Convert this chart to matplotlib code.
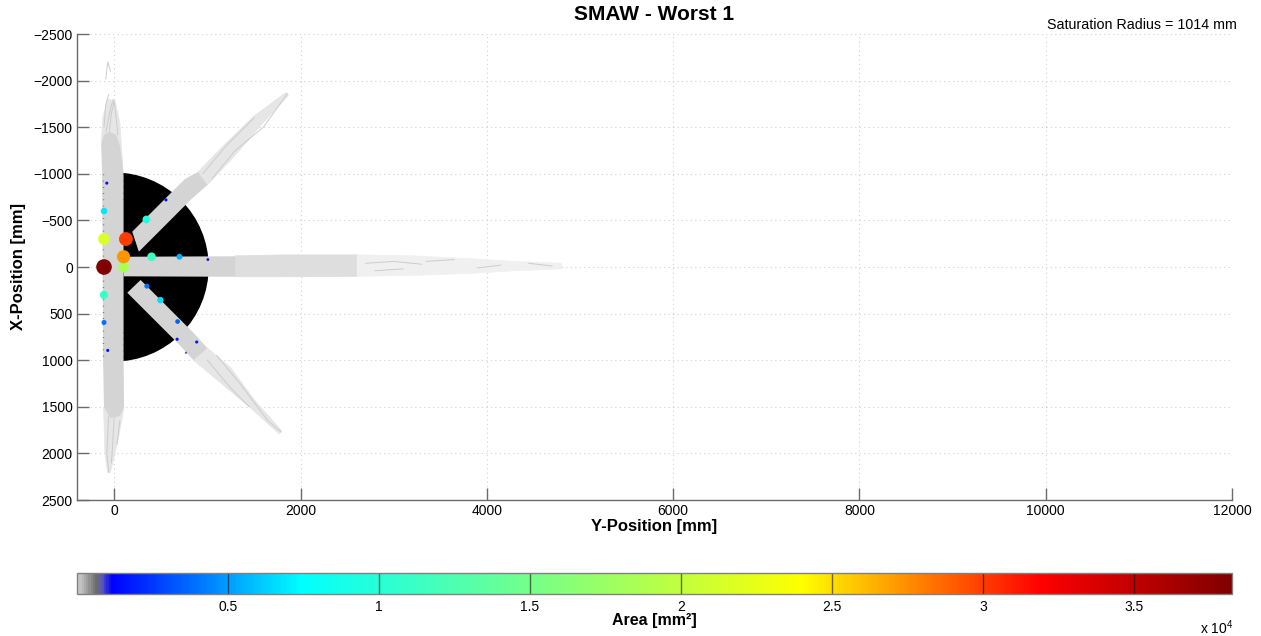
import numpy as np
import matplotlib
matplotlib.use('Agg')
import matplotlib.pyplot as plt
from matplotlib.colors import LinearSegmentedColormap, Normalize
from matplotlib.patches import Wedge, Polygon
from matplotlib.cm import ScalarMappable

plt.rcParams['font.family'] = ['Liberation Sans', 'DejaVu Sans']
plt.rcParams['mathtext.fontset'] = 'custom'
plt.rcParams['mathtext.rm'] = 'Liberation Sans'
plt.rcParams['mathtext.it'] = 'Liberation Sans'

# ---------------- data ----------------
title = "SMAW - Worst 1"
sat_radius = 1014
area_max = 38240

# pool centres: horizontal (Y-Position) and vertical (X-Position), area in mm^2
pool_ypos = [-80, -110, 555, 345, -110, 125, 100, 400, 700, 1005, -110, 100,
             -110, 350, 495, -110, 680, 675, 885, 770, -70]
pool_xpos = [-900, -600, -720, -510, -300, -300, -110, -110, -110, -80, 0, 0,
             300, 205, 355, 595, 585, 775, 805, 920, 895]
pool_area = [1500, 6800, 1500, 9500, 21500, 30000, 27200, 11500, 5500, 1200, 38200, 18500,
             11000, 4000, 6500, 4000, 3500, 1500, 1500, 800, 1500]

# dense trajectory regions (Y, X)
vert_core = [(-130, -1000), (-140, -1300), (-110, -1420), (-50, -1450), (20, -1420),
             (60, -1300), (90, -1100), (100, -1000), (100, 1000), (105, 1500),
             (60, 1600), (-40, 1620), (-110, 1500), (-120, 1000)]
vert_tail_top = [(-140, -1300), (-125, -1600), (-70, -1800), (10, -1780),
                 (60, -1550), (90, -1100), (20, -1420), (-110, -1420)]
vert_tail_bot = [(-115, 1500), (-100, 2000), (-70, 2210), (-40, 2200), (20, 1950),
                 (80, 1650), (105, 1500)]
horiz_core = [(100, -110), (1300, -115), (1300, 105), (100, 100)]
horiz_mid = [(1300, -120), (1800, -130), (2600, -130), (2600, 100), (1800, 105), (1300, 105)]
horiz_tail = [(2600, -130), (3200, -120), (3800, -90), (4300, -60),
              (4800, -40), (4800, 20), (4300, 40), (3800, 70), (3200, 90), (2600, 100)]
diag_up_core = [(193, -379), (264, -164), (830, -730), (1000, -880), (900, -1020), (759, -945)]
diag_up_tail = [(1000, -880), (1300, -1200), (1600, -1550), (1870, -1840),
                (1840, -1870), (1500, -1620), (1150, -1280), (900, -1020)]
diag_dn_core = [(283, 139), (140, 276), (706, 842), (850, 1000), (1000, 870), (849, 705)]
diag_dn_tail = [(1000, 870), (1250, 1080), (1500, 1420), (1800, 1760), (1770, 1790),
                (1450, 1500), (1150, 1250), (850, 1000)]

# loose trace wisps
wisps = [
    [(-60, -1400), (-30, -1650), (0, -1780), (20, -1600), (40, -1420)],
    [(-90, -1450), (-40, -1700), (-10, -1800)],
    [(-110, -1500), (-90, -1750), (-60, -1850)],
    [(-90, -2020), (-70, -2200), (-40, -2100)],
    [(-60, 1600), (-80, 2000), (-60, 2200)],
    [(0, 1600), (-20, 1950), (-30, 2100)],
    [(60, 1650), (30, 1900)],
    [(2700, -40), (3000, -60), (3300, -30)],
    [(2800, 40), (3100, 20)],
    [(3350, -60), (3650, -80)],
    [(3900, 10), (4150, -20)],
    [(4450, -40), (4700, -10)],
    [(1100, 950), (1350, 1250), (1650, 1650), (1790, 1770)],
    [(1000, 1000), (1250, 1300), (1450, 1500)],
    [(1050, -950), (1300, -1250), (1600, -1500), (1860, -1860)],
    [(950, -1000), (1200, -1300), (1500, -1600)],
]

xticks = [0, 2000, 4000, 6000, 8000, 10000, 12000]
yticks = [-2500, -2000, -1500, -1000, -500, 0, 500, 1000, 1500, 2000, 2500]
cb_ticks = [5000, 10000, 15000, 20000, 25000, 30000, 35000]
cb_ticklabels = ['0.5', '1', '1.5', '2', '2.5', '3', '3.5']

# ---------------- colormap ----------------
anch = [0.0, 0.015, 0.03, 0.045, 0.06, 0.08, 0.11, 0.74, 1.57, 2.40, 3.19, 3.824]
cols = [(0.80, 0.80, 0.80), (0.72, 0.72, 0.72), (0.62, 0.62, 0.62), (0.52, 0.52, 0.52),
        (0.42, 0.42, 0.45), (0.35, 0.35, 0.70), (0, 0, 1), (0, 1, 1), (0.5, 1, 0.5),
        (1, 1, 0), (1, 0, 0), (0.5, 0, 0)]
cmap = LinearSegmentedColormap.from_list('grayjet', list(zip(np.array(anch) / anch[-1], cols)), N=512)
norm = Normalize(vmin=0, vmax=area_max)

# ---------------- figure ----------------
W, H = 1261, 636
fig = plt.figure(figsize=(W / 100, H / 100), dpi=100)
ax = fig.add_axes([77 / W, 1 - 500 / H, 1155 / W, 466 / H])

ax.set_xlim(-400, 12000)
ax.set_ylim(2500, -2500)
ax.set_xticks(xticks)
ax.set_yticks(yticks)
ax.set_axisbelow(True)
ax.grid(True, linestyle=(0, (1, 3)), color=(0.82, 0.82, 0.82), linewidth=0.8)
for s in ['top', 'right']:
    ax.spines[s].set_visible(False)
for s in ['left', 'bottom']:
    ax.spines[s].set_color((0.42, 0.42, 0.42))
    ax.spines[s].set_linewidth(1.0)
ax.tick_params(direction='in', length=8.6, width=1.0, color=(0.42, 0.42, 0.42),
               labelsize=10, labelcolor='black', pad=3)

# black saturation semicircle
ax.add_patch(Wedge((0, 0), sat_radius, -90, 90, facecolor='black', edgecolor='none', zorder=1))

core_col = (0.83, 0.83, 0.83)
mid_col = (0.87, 0.87, 0.87)
tail_col = (0.90, 0.90, 0.90)
faint_col = (0.94, 0.94, 0.94)
for poly, c in [(vert_tail_top, tail_col), (vert_tail_bot, tail_col), (horiz_tail, faint_col),
                (diag_up_tail, tail_col), (diag_dn_tail, tail_col), (horiz_mid, mid_col)]:
    ax.add_patch(Polygon(poly, closed=True, facecolor=c, edgecolor=c,
                         linewidth=0.5, zorder=2))
for poly in [vert_core, horiz_core, diag_up_core, diag_dn_core]:
    ax.add_patch(Polygon(poly, closed=True, facecolor=core_col, edgecolor='none', zorder=2.2))
for w in wisps:
    wy, wx = zip(*w)
    ax.plot(wy, wx, color=(0.80, 0.80, 0.80), linewidth=0.7, zorder=2.1)

# black speckles along vertical bar edges
ax.plot([-118, -118], [-1000, 1000], color='black', linewidth=1.0,
        linestyle=(0, (0.5, 4)), alpha=0.6, zorder=2.3)
ax.plot([92, 92], [-1000, -700], color='black', linewidth=0.8,
        linestyle=(0, (0.5, 5)), alpha=0.5, zorder=2.3)
ax.plot([92, 92], [700, 1000], color='black', linewidth=0.8,
        linestyle=(0, (0.5, 5)), alpha=0.5, zorder=2.3)

# weld pools
order = np.argsort(pool_area)
py = np.array(pool_ypos)[order]
px = np.array(pool_xpos)[order]
pa = np.array(pool_area)[order]
ax.scatter(py, px, s=pa / 1e4 * 33, c=pa, cmap=cmap, norm=norm, edgecolors='none', zorder=4)

# texts
fig.text(654.5 / W, 1 - 15 / H, title, ha='center', va='center', fontsize=15, fontweight='bold')
fig.text(1237 / W, 1 - 25 / H, f"Saturation Radius = {sat_radius} mm", ha='right', va='center', fontsize=10.3)
fig.text(654.5 / W, 1 - 526 / H, "Y-Position [mm]", ha='center', va='center', fontsize=12, fontweight='bold')
fig.text(19 / W, 1 - 267 / H, "X-Position [mm]", ha='center', va='center', rotation=90,
         fontsize=12, fontweight='bold')

# colorbar
cax = fig.add_axes([77 / W, 1 - 594 / H, 1155 / W, 21 / H])
cb = fig.colorbar(ScalarMappable(norm=norm, cmap=cmap), cax=cax, orientation='horizontal')
cb.set_ticks(cb_ticks)
cb.set_ticklabels(cb_ticklabels)
cb.outline.set_edgecolor((0.5, 0.5, 0.5))
cb.outline.set_linewidth(1.0)
cax.tick_params(direction='in', length=15, width=1.0, color=(0, 0, 0, 0.55),
                labelsize=10, pad=4)
fig.text(654 / W, 1 - 621 / H, "Area [mm²]", ha='center', va='center', fontsize=11.5, fontweight='bold')
fig.text(1200 / W, 1 - 628 / H, r"x 10$^{4}$", ha='left', va='center', fontsize=10)

fig.savefig('out.png', dpi=100)
